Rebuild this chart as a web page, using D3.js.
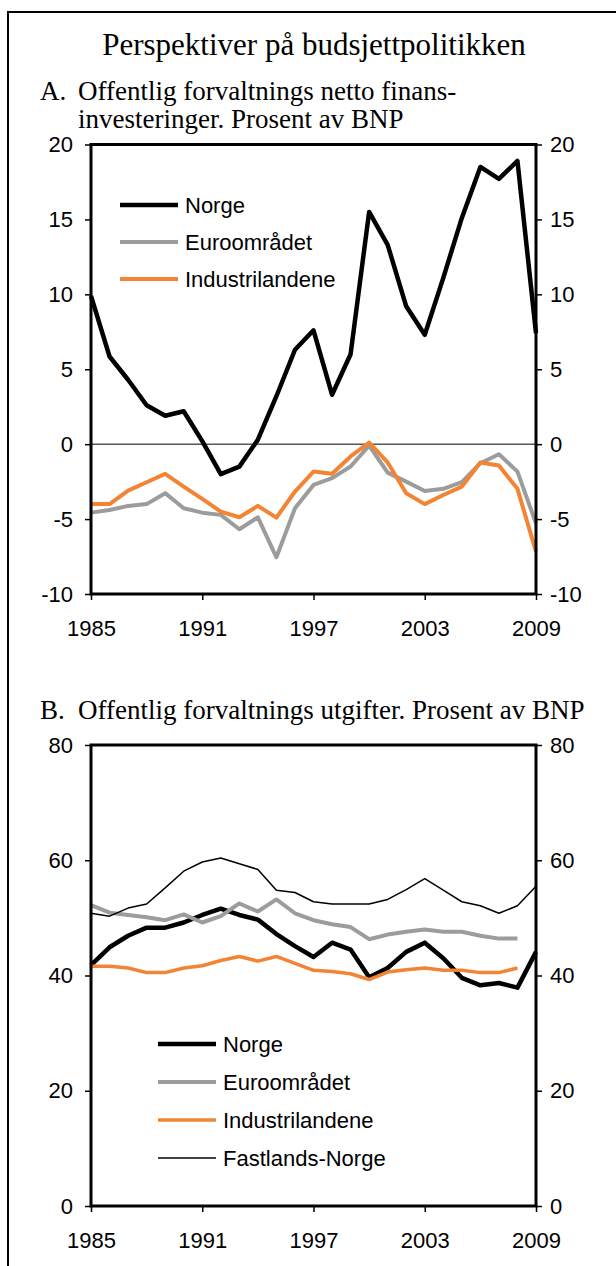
<!DOCTYPE html>
<html>
<head>
<meta charset="utf-8">
<script src="https://cdn.jsdelivr.net/npm/d3@7"></script>
<style>
  body { margin: 0; background: #fff; }
  svg { display: block; }
  .tick text { font-family: "Liberation Sans", Arial, sans-serif; font-size: 22px; fill: #000; }
  .legend text { font-family: "Liberation Sans", Arial, sans-serif; font-size: 22px; fill: #000; }
  .title { font-family: "Liberation Serif", "Times New Roman", serif; fill: #000; }
</style>
</head>
<body>
<svg id="chart" width="616" height="1266"></svg>
<script>
// years on the x axis
const years = [1985, 1986, 1987, 1988, 1989, 1990, 1991, 1992, 1993, 1994, 1995, 1996,
  1997, 1998, 1999, 2000, 2001, 2002, 2003, 2004, 2005, 2006, 2007, 2008, 2009];
const yearTicks = [1985, 1991, 1997, 2003, 2009];

// panel A: netto finansinvesteringer, prosent av BNP
const aNorge = [9.9, 5.85, 4.3, 2.6, 1.9, 2.2, 0.2, -2.0, -1.5, 0.3, 3.2, 6.3, 7.6,
  3.3, 6.0, 15.5, 13.3, 9.2, 7.3, 11.1, 15.1, 18.5, 17.7, 18.9, 7.4];
const aEuro = [-4.57, -4.39, -4.12, -4.0, -3.27, -4.28, -4.57, -4.72, -5.68, -4.88, -7.55, -4.28, -2.72,
  -2.27, -1.49, -0.1, -1.9, -2.5, -3.12, -2.98, -2.54, -1.27, -0.67, -1.83, -5.3];
const aIndustri = [-4.0, -4.0, -3.1, -2.54, -1.98, -2.83, -3.65, -4.5, -4.88, -4.12, -4.9, -3.16, -1.83,
  -1.98, -0.82, 0.11, -1.22, -3.27, -4.0, -3.39, -2.83, -1.22, -1.43, -2.98, -7.17];
const aTicks = [-10, -5, 0, 5, 10, 15, 20];

// panel B: utgifter, prosent av BNP
const bNorge = [41.8, 44.9, 46.9, 48.3, 48.3, 49.2, 50.5, 51.6, 50.5, 49.7, 47.2, 45.1, 43.2,
  45.7, 44.5, 39.7, 41.3, 44.1, 45.7, 43.0, 39.6, 38.3, 38.7, 37.9, 44.1];
const bEuro = [52.2, 50.9, 50.5, 50.1, 49.6, 50.6, 49.2, 50.3, 52.5, 51.1, 53.2, 50.8, 49.6,
  48.9, 48.4, 46.3, 47.1, 47.6, 48.0, 47.6, 47.6, 46.9, 46.4, 46.4, null];
const bIndustri = [41.6, 41.6, 41.3, 40.5, 40.5, 41.3, 41.7, 42.6, 43.3, 42.5, 43.3, 42.1, 40.9,
  40.7, 40.3, 39.3, 40.6, 41.0, 41.3, 40.9, 40.9, 40.5, 40.5, 41.3, null];
const bFastland = [50.8, 50.3, 51.7, 52.4, 55.2, 58.1, 59.7, 60.4, 59.4, 58.4, 54.8, 54.4, 52.8,
  52.4, 52.4, 52.4, 53.2, 54.9, 56.8, 54.8, 52.8, 52.1, 50.8, 52.1, 55.5];
const bTicks = [0, 20, 40, 60, 80];

const svg = d3.select("#chart");
const left = 91, right = 536;
// plain hyphen for negative numbers, as in the original
const fmt = (d) => String(d);

// outer frame, runs off the right and bottom edges
svg.append("rect")
  .attr("x", 8).attr("y", 12)
  .attr("width", 700).attr("height", 1300)
  .attr("fill", "none").attr("stroke", "#000").attr("stroke-width", 2);

svg.append("text").attr("class", "title")
  .attr("x", 314).attr("y", 55)
  .attr("text-anchor", "middle")
  .style("font-size", "31px")
  .text("Perspektiver på budsjettpolitikken");

function subtitle(y, label, lines) {
  svg.append("text").attr("class", "title")
    .attr("x", 40).attr("y", y)
    .style("font-size", "27px")
    .text(label);
  lines.forEach((l, i) => {
    svg.append("text").attr("class", "title")
      .attr("x", 78).attr("y", y + i * 28)
      .style("font-size", "27px")
      .text(l);
  });
}

subtitle(100, "A.", ["Offentlig forvaltnings netto finans-", "investeringer. Prosent av BNP"]);
subtitle(719, "B.", ["Offentlig forvaltnings utgifter. Prosent av BNP"]);

function panel(opts) {
  const x = d3.scaleLinear().domain([1985, 2009]).range([left, right]);
  const y = d3.scaleLinear().domain(opts.domain).range([opts.bottom, opts.top]);
  const g = svg.append("g");

  g.append("g")
    .attr("transform", `translate(${left},0)`)
    .call(d3.axisLeft(y).tickValues(opts.ticks).tickSize(6).tickPadding(12).tickFormat(fmt));
  g.append("g")
    .attr("transform", `translate(${right},0)`)
    .call(d3.axisRight(y).tickValues(opts.ticks).tickSize(6).tickPadding(8).tickFormat(fmt));
  g.append("g")
    .attr("transform", `translate(0,${opts.bottom})`)
    .call(d3.axisBottom(x).tickValues(yearTicks).tickSize(6).tickPadding(20).tickFormat(fmt));
  g.selectAll(".domain").remove();
  g.selectAll(".tick line").attr("stroke", "#000").attr("stroke-width", 1.5);

  // zero line
  if (opts.domain[0] < 0) {
    g.append("line")
      .attr("x1", left).attr("x2", right)
      .attr("y1", y(0)).attr("y2", y(0))
      .attr("stroke", "#000").attr("stroke-width", 1);
  }

  opts.series.forEach((s) => {
    const line = d3.line()
      .defined((d) => d != null)
      .x((d, i) => x(years[i]))
      .y((d) => y(d));
    g.append("path")
      .attr("d", line(s.values))
      .attr("fill", "none")
      .attr("stroke", s.color)
      .attr("stroke-width", s.width)
      .attr("stroke-linejoin", "round");
  });

  // plot frame
  g.append("rect")
    .attr("x", left).attr("y", opts.top)
    .attr("width", right - left).attr("height", opts.bottom - opts.top)
    .attr("fill", "none").attr("stroke", "#000").attr("stroke-width", 3);

  const leg = g.append("g").attr("class", "legend");
  opts.series.forEach((s, i) => {
    const ly = opts.legend.y + i * opts.legend.dy;
    leg.append("line")
      .attr("x1", opts.legend.x).attr("x2", opts.legend.x + 58)
      .attr("y1", ly).attr("y2", ly)
      .attr("stroke", s.color).attr("stroke-width", s.width);
    leg.append("text")
      .attr("x", opts.legend.x + 65).attr("y", ly)
      .attr("dy", "0.35em")
      .text(s.name);
  });
}

panel({
  top: 144.5, bottom: 594, domain: [-10, 20], ticks: aTicks,
  legend: { x: 120, y: 205, dy: 37 },
  series: [
    { name: "Norge", values: aNorge, color: "#000", width: 4.5 },
    { name: "Euroområdet", values: aEuro, color: "#9c9c9c", width: 4 },
    { name: "Industrilandene", values: aIndustri, color: "#f28434", width: 4 },
  ],
});

panel({
  top: 745, bottom: 1206, domain: [0, 80], ticks: bTicks,
  legend: { x: 158, y: 1044, dy: 38 },
  series: [
    { name: "Norge", values: bNorge, color: "#000", width: 4.5 },
    { name: "Euroområdet", values: bEuro, color: "#9c9c9c", width: 4 },
    { name: "Industrilandene", values: bIndustri, color: "#f28434", width: 3.5 },
    { name: "Fastlands-Norge", values: bFastland, color: "#000", width: 1.5 },
  ],
});
</script>
</body>
</html>
